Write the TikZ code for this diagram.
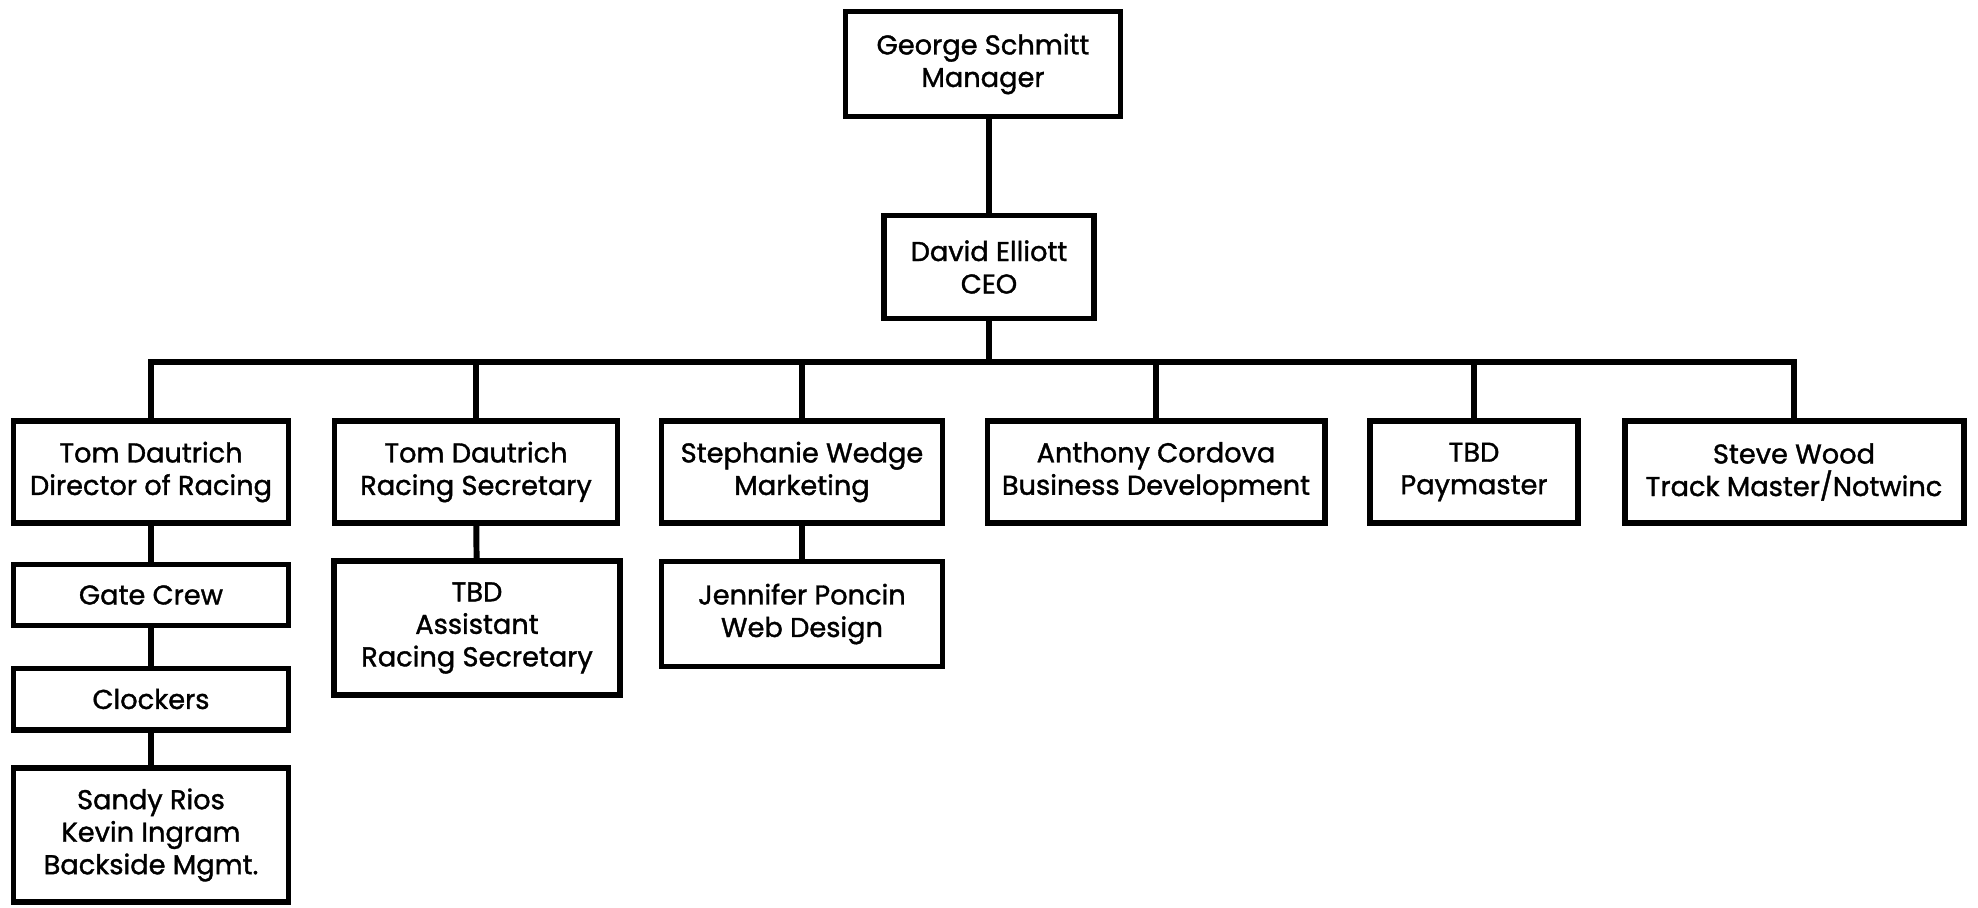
\documentclass[tikz,border=0pt]{standalone}
\usepackage{fontspec}
\setmainfont{Poppins}
\newfontfamily\orgfont{Poppins}[FakeBold=1.3]
\usepackage{tikz}
\usetikzlibrary{positioning}

\begin{document}
\begin{tikzpicture}[x=0.02cm, y=-0.02cm, line width=3.4pt]
	\tikzset{unit/.style = {draw, line width=3.4pt, rectangle, align=center, inner sep=0pt,
		font=\orgfont\fontsize{15.5}{18.5}\selectfont}}
	\useasboundingbox (0,0) rectangle (1978,907);

	% top of the chart
	\node[unit, minimum width=275*0.02cm, minimum height=105*0.02cm] (mgr) at (983,64) {George Schmitt\\Manager};
	\node[unit, minimum width=210*0.02cm, minimum height=103*0.02cm] (ceo) at (989,267) {David Elliott\\CEO};

	% first row
	\node[unit, minimum width=275*0.02cm, minimum height=102*0.02cm] (dor) at (151,472) {Tom Dautrich\\Director of Racing};
	\node[unit, minimum width=283*0.02cm, minimum height=102*0.02cm] (rsec) at (476,472) {Tom Dautrich\\Racing Secretary};
	\node[unit, minimum width=281*0.02cm, minimum height=102*0.02cm] (mkt) at (802,472) {Stephanie Wedge\\Marketing};
	\node[unit, minimum width=337*0.02cm, minimum height=102*0.02cm] (bizdev) at (1156,472) {Anthony Cordova\\Business Development};
	\node[unit, minimum width=208*0.02cm, minimum height=102*0.02cm] (pay) at (1474,472) {TBD\\Paymaster};
	\node[unit, minimum width=339*0.02cm, minimum height=102*0.02cm] (track) at (1794,472) {Steve Wood\\Track Master/Notwinc};

	% lower rows
	\node[unit, minimum width=275*0.02cm, minimum height=61*0.02cm] (gate) at (151,595) {Gate Crew};
	\node[unit, minimum width=275*0.02cm, minimum height=61*0.02cm] (clock) at (151,699) {Clockers};
	\node[unit, minimum width=275*0.02cm, minimum height=134*0.02cm] (back) at (151,835) {Sandy Rios\\Kevin Ingram\\Backside Mgmt.};
	\node[unit, minimum width=286*0.02cm, minimum height=134*0.02cm] (asst) at (477,628) {TBD\\Assistant\\Racing Secretary};
	\node[unit, minimum width=281*0.02cm, minimum height=105*0.02cm] (web) at (802,614) {Jennifer Poncin\\Web Design};

	% connectors
	\coordinate (bus) at (ceo.south |- 0,362);
	\draw (ceo.north) -- (ceo.north |- mgr.south);
	\draw (ceo.south) -- (bus);
	\foreach \c in {dor,rsec,mkt,bizdev,pay,track}
		\draw (bus) -| (\c.north);
	\draw (dor) -- (gate);
	\draw (gate) -- (clock);
	\draw (clock) -- (back);
	\draw (rsec) -- (asst);
	\draw (mkt) -- (web);
\end{tikzpicture}
\end{document}
